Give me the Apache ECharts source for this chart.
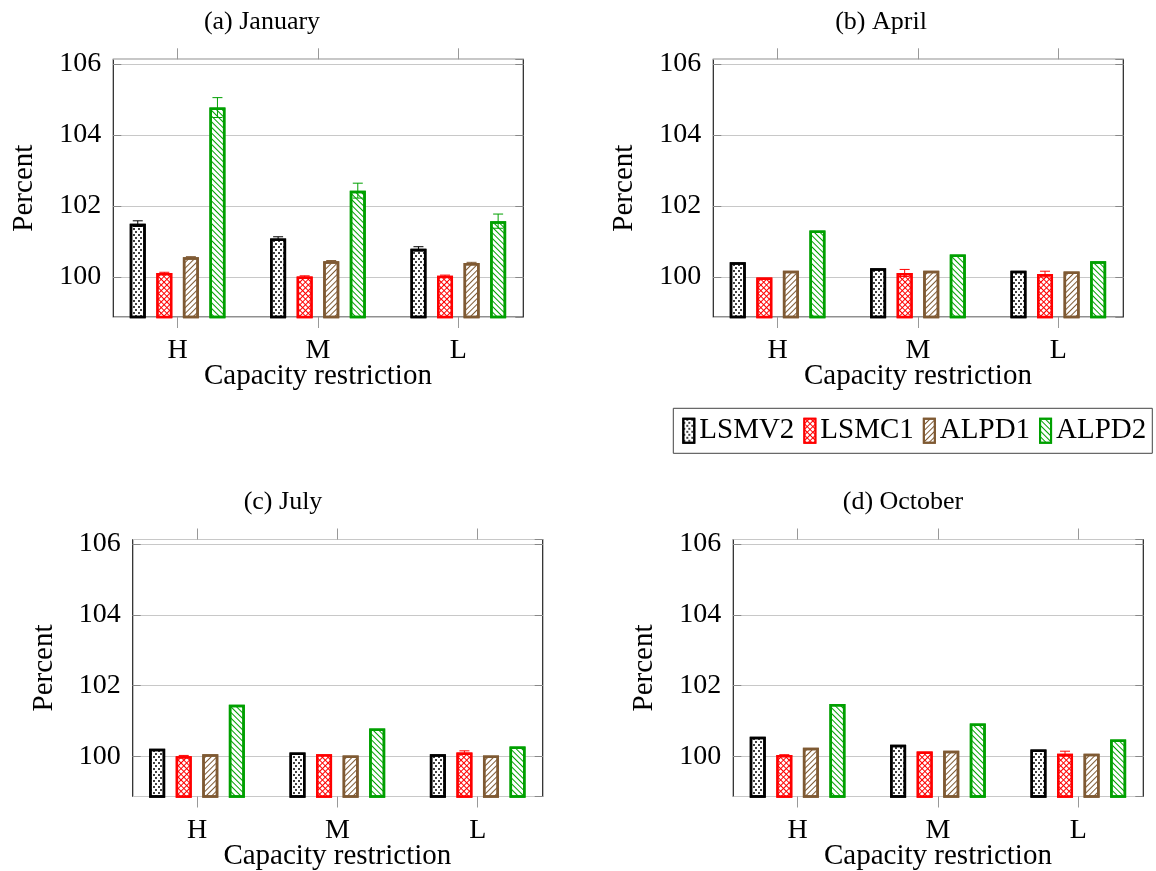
<!DOCTYPE html>
<html><head><meta charset="utf-8">
<script src="https://cdn.jsdelivr.net/npm/echarts@6/dist/echarts.min.js"></script>
<style>html,body{margin:0;padding:0;background:#fff}#c{width:1156px;height:871px}</style>
</head><body><div id="c"></div>
<script>
// ---------- data ----------
const categories = ['H', 'M', 'L'];
const seriesNames = ['LSMV2', 'LSMC1', 'ALPD1', 'ALPD2'];
const panelTitles = ['(a) January', '(b) April', '(c) July', '(d) October'];
const yMin = 98.87, yMax = 106.13;
const xTitle = 'Capacity restriction';
const yTitle = 'Percent';

const janLSMV2 = [101.50, 101.08, 100.79];
const janLSMC1 = [100.11, 100.01, 100.03];
const janALPD1 = [100.55, 100.44, 100.39];
const janALPD2 = [104.77, 102.43, 101.57];
const janLSMV2Err = [0.08, 0.05, 0.06];
const janLSMC1Err = [0.02, 0.02, 0.02];
const janALPD1Err = [0.02, 0.02, 0.02];
const janALPD2Err = [0.28, 0.21, 0.20];

const aprLSMV2 = [100.41, 100.24, 100.17];
const aprLSMC1 = [99.98, 100.11, 100.08];
const aprALPD1 = [100.17, 100.17, 100.15];
const aprALPD2 = [101.31, 100.63, 100.44];
const aprLSMV2Err = [0, 0, 0];
const aprLSMC1Err = [0, 0.10, 0.08];
const aprALPD1Err = [0, 0, 0];
const aprALPD2Err = [0, 0, 0];

const julLSMV2 = [100.22, 100.11, 100.06];
const julLSMC1 = [100.01, 100.06, 100.11];
const julALPD1 = [100.06, 100.03, 100.03];
const julALPD2 = [101.46, 100.79, 100.28];
const julLSMV2Err = [0, 0, 0];
const julLSMC1Err = [0.02, 0, 0.05];
const julALPD1Err = [0, 0, 0];
const julALPD2Err = [0, 0, 0];

const octLSMV2 = [100.56, 100.33, 100.20];
const octLSMC1 = [100.04, 100.14, 100.08];
const octALPD1 = [100.25, 100.16, 100.08];
const octALPD2 = [101.48, 100.93, 100.48];
const octLSMV2Err = [0, 0, 0];
const octLSMC1Err = [0.01, 0, 0.07];
const octALPD1Err = [0, 0, 0];
const octALPD2Err = [0, 0, 0];

const panelValues = [
  [janLSMV2, janLSMC1, janALPD1, janALPD2],
  [aprLSMV2, aprLSMC1, aprALPD1, aprALPD2],
  [julLSMV2, julLSMC1, julALPD1, julALPD2],
  [octLSMV2, octLSMC1, octALPD1, octALPD2]
];
const panelErrors = [
  [janLSMV2Err, janLSMC1Err, janALPD1Err, janALPD2Err],
  [aprLSMV2Err, aprLSMC1Err, aprALPD1Err, aprALPD2Err],
  [julLSMV2Err, julLSMC1Err, julALPD1Err, julALPD2Err],
  [octLSMV2Err, octLSMC1Err, octALPD1Err, octALPD2Err]
];

// ---------- layout / style ----------
const FONT = "'Liberation Serif', 'DejaVu Serif', serif";
const FRAME_W = 410;
const BAND = 140.35;
const TICK_OFF = 64.3;
const layout = [
  { left: 113.3, top: 59.3, height: 257.7, tx: 262, ty: 22 },
  { left: 713.3, top: 59.3, height: 257.7, tx: 881, ty: 22 },
  { left: 132.7, top: 539.5, height: 257, tx: 283, ty: 502 },
  { left: 733.3, top: 539.5, height: 257, tx: 903, ty: 502 }
];
const BROWN = '#7f5a33', GREEN = '#00a000';
const seriesColors = ['#000000', '#ff0000', BROWN, GREEN];
const BAR_W = 16, BAR_GAP = 0.66;
const PITCH = BAR_W * (1 + BAR_GAP);
const itemStyles = [
  { color: '#ffffff', borderColor: '#000000', borderWidth: 2.5,
    decal: { symbol: 'circle', color: '#000000', dashArrayX: [[2, 3], [0, 3, 2, 0]], dashArrayY: [2, 1], symbolSize: 1 } },
  { color: '#ff0000', borderColor: '#ff0000', borderWidth: 2.5,
    decal: { symbol: 'rect', color: '#ffffff', dashArrayX: [3, 1], dashArrayY: [3, 1], rotation: Math.PI / 4, symbolSize: 1 } },
  { color: '#ffffff', borderColor: BROWN, borderWidth: 2.5,
    decal: { symbol: 'rect', color: BROWN, dashArrayX: [1, 0], dashArrayY: [1, 3], rotation: -Math.PI / 4, symbolSize: 1 } },
  { color: '#ffffff', borderColor: GREEN, borderWidth: 2.5,
    decal: { symbol: 'rect', color: GREEN, dashArrayX: [1, 0], dashArrayY: [1, 3], rotation: Math.PI / 4, symbolSize: 1 } }
];

const grids = [], xAxes = [], yAxes = [], series = [], graphics = [];

layout.forEach((L, p) => {
  const gA = grids.length;
  grids.push({ left: L.left, top: L.top, width: FRAME_W, height: L.height, show: true,
    outerBoundsMode: 'none', containLabel: false,
    borderColor: '#222', borderWidth: 1.2, backgroundColor: 'transparent' });
  const gB = grids.length;
  grids.push({ left: L.left + TICK_OFF - BAND / 2, top: L.top, width: BAND * 3, height: L.height,
    outerBoundsMode: 'none', containLabel: false });

  // frame grid axes
  xAxes.push({ gridIndex: gA, type: 'value', show: false, min: 0, max: 1 });
  yAxes.push({ gridIndex: gA, type: 'value', min: yMin, max: yMax, splitNumber: 3, position: 'left',
    name: yTitle, nameLocation: 'middle', nameGap: 74, nameMoveOverlap: false,
    nameTextStyle: { fontFamily: FONT, fontSize: 29, color: '#000' },
    axisLine: { show: false },
    axisTick: { show: true, inside: true, length: 8, lineStyle: { color: '#888', width: 1 } },
    axisLabel: { fontFamily: FONT, fontSize: 28, color: '#000', margin: 12, showMinLabel: false, showMaxLabel: false,
      formatter: v => (Math.abs(v - Math.round(v)) < 1e-6 ? String(Math.round(v)) : '') },
    splitLine: { show: true, lineStyle: { color: '#c8c8c8', width: 1 } } });
  yAxes.push({ gridIndex: gA, type: 'value', min: yMin, max: yMax, splitNumber: 3, position: 'right',
    axisLine: { show: false }, axisLabel: { show: false }, splitLine: { show: false },
    axisTick: { show: true, inside: true, length: 8, lineStyle: { color: '#888', width: 1 } } });

  // bar grid axes
  const xB = xAxes.length;
  xAxes.push({ gridIndex: gB, type: 'category', data: categories, position: 'bottom',
    name: xTitle, nameLocation: 'middle', nameGap: 45, nameMoveOverlap: false,
    nameTextStyle: { fontFamily: FONT, fontSize: 29, color: '#000' },
    axisLine: { show: false },
    axisTick: { show: true, alignWithLabel: true, length: 11, lineStyle: { color: '#999', width: 1 } },
    axisLabel: { fontFamily: FONT, fontSize: 28, color: '#000', margin: 20 } });
  xAxes.push({ gridIndex: gB, type: 'category', data: categories, position: 'top',
    axisLine: { show: false }, axisLabel: { show: false },
    axisTick: { show: true, alignWithLabel: true, length: 11, lineStyle: { color: '#999', width: 1 } } });
  const yB = yAxes.length;
  yAxes.push({ gridIndex: gB, type: 'value', min: yMin, max: yMax, show: false });

  panelValues[p].forEach((vals, k) => {
    series.push({ type: 'bar', name: seriesNames[k], xAxisIndex: xB, yAxisIndex: yB,
      data: vals, barWidth: BAR_W, barGap: (BAR_GAP * 100) + '%', itemStyle: itemStyles[k],
      emphasis: { disabled: true }, clip: true, z: 2 });
  });
  panelValues[p].forEach((vals, k) => {
    const errs = panelErrors[p][k];
    series.push({ type: 'custom', name: 'err', xAxisIndex: xB, yAxisIndex: yB, z: 5,
      data: vals.map((v, i) => [i, v, errs[i]]),
      encode: { x: 0, y: 1 },
      renderItem: (params, api) => {
        const e = api.value(2);
        if (!e) return null;
        const ci = api.value(0), v = api.value(1);
        const hi = api.coord([ci, v + e]);
        const lo = api.coord([ci, v - e]);
        const x = hi[0] + (k - 1.5) * PITCH;
        const st = { stroke: seriesColors[k], lineWidth: 1 };
        return { type: 'group', children: [
          { type: 'line', shape: { x1: x, y1: hi[1], x2: x, y2: lo[1] }, style: st },
          { type: 'line', shape: { x1: x - 5, y1: hi[1], x2: x + 5, y2: hi[1] }, style: st },
          { type: 'line', shape: { x1: x - 5, y1: lo[1], x2: x + 5, y2: lo[1] }, style: st }
        ] };
      } });
  });

  graphics.push({ type: 'text', x: L.tx, y: L.ty,
    style: { text: panelTitles[p], font: '26px ' + FONT, fill: '#000', textAlign: 'center', textVerticalAlign: 'middle' } });
});

const option = {
  animation: false,
  backgroundColor: '#ffffff',
  grid: grids, xAxis: xAxes, yAxis: yAxes, series: series,
  graphic: graphics,
  legend: {
    data: seriesNames, left: 673.3, top: 408.3, orient: 'horizontal',
    icon: 'rect', itemWidth: 11, itemHeight: 24, itemGap: 9,
    padding: [8, 6, 8, 9], borderColor: '#444', borderWidth: 1,
    textStyle: { fontFamily: FONT, fontSize: 29, color: '#000' },
    selectedMode: false
  }
};

const chart = echarts.init(document.getElementById('c'), null, { renderer: 'canvas' });
chart.setOption(option);
</script>
</body></html>
